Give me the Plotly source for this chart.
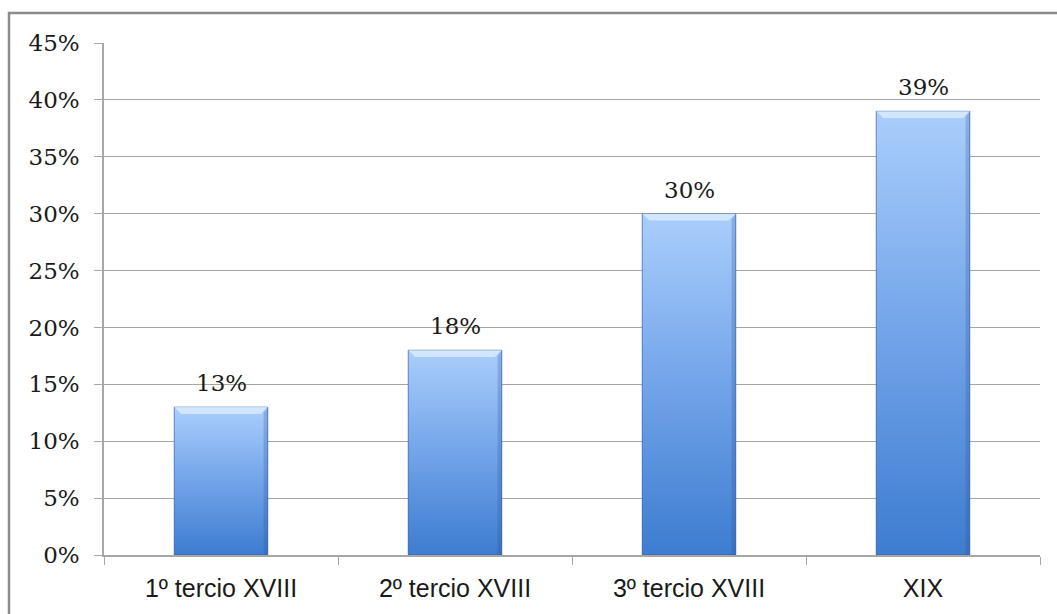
import plotly.graph_objects as go

# Share of each period (percent)
periods = ["1º tercio XVIII", "2º tercio XVIII", "3º tercio XVIII", "XIX"]
shares = [13, 18, 30, 39]
y_ticks = [0, 5, 10, 15, 20, 25, 30, 35, 40, 45]
y_tick_labels = [f"{v}%" for v in y_ticks]

BAR_HALF = 0.2
GRID = "#a6a6a6"
SERIF = "DejaVu Serif, Liberation Serif, serif"
SANS = "Liberation Sans, Arial, sans-serif"

fig = go.Figure()

# base bars on the category axis
fig.add_trace(go.Bar(
    x=periods, y=shares, width=2 * BAR_HALF,
    marker=dict(color="#6e9fe2", line=dict(width=0)),
    hoverinfo="x+y", showlegend=False,
))

# vertical gradient fill over each bar (numeric twin axis)
for i, v in enumerate(shares):
    xs = [i - BAR_HALF, i + BAR_HALF, i + BAR_HALF, i - BAR_HALF, i - BAR_HALF]
    ys = [0, 0, v, v, 0]
    fig.add_trace(go.Scatter(
        x=xs, y=ys, xaxis="x2", mode="lines", fill="toself",
        line=dict(color="rgba(50,90,155,0.6)", width=1),
        fillgradient=dict(type="vertical",
                          colorscale=[[0, "#3d7cd0"], [0.5, "#72a4e9"], [1, "#aacefc"]]),
        hoverinfo="skip", showlegend=False,
    ))
    # darker shading along the right edge
    ex = 0.018
    fig.add_trace(go.Scatter(
        x=[i + BAR_HALF - ex, i + BAR_HALF, i + BAR_HALF, i + BAR_HALF - ex, i + BAR_HALF - ex],
        y=[0, 0, v, v - 0.5, 0],
        xaxis="x2", mode="lines", fill="toself",
        line=dict(width=0), fillcolor="rgba(40,80,150,0.25)",
        hoverinfo="skip", showlegend=False,
    ))
    # light bevel along the top edge
    dy = 0.6
    dx = 0.03
    fig.add_trace(go.Scatter(
        x=[i - BAR_HALF, i + BAR_HALF, i + BAR_HALF - dx, i - BAR_HALF + dx, i - BAR_HALF],
        y=[v, v, v - dy, v - dy, v],
        xaxis="x2", mode="lines", fill="toself",
        line=dict(width=0), fillcolor="rgba(220,236,255,0.8)",
        hoverinfo="skip", showlegend=False,
    ))

# value labels above bars
for p, v in zip(periods, shares):
    fig.add_annotation(
        x=p, y=v, text=f"{v}%", showarrow=False,
        yanchor="bottom", yshift=9,
        font=dict(family=SERIF, size=23, color="#1a1a1a"),
    )

# outer chart frame
fig.add_shape(type="rect", xref="paper", yref="paper",
              x0=-95 / 936, x1=1.05, y0=-0.2, y1=1 + 30 / 514,
              line=dict(color="#8c8c8c", width=2.5), layer="below")

fig.update_layout(
    width=1057, height=614,
    margin=dict(l=104, r=17, t=43, b=57),
    paper_bgcolor="white", plot_bgcolor="white",
    bargap=0.6,
    xaxis=dict(
        type="category", tickson="boundaries", ticks="outside",
        ticklen=8, tickcolor=GRID, showline=True, linecolor=GRID, linewidth=1.5,
        showgrid=False, range=[-0.5, 3.5], ticklabelstandoff=10,
        tickfont=dict(family=SANS, size=25, color="#1a1a1a"),
    ),
    xaxis2=dict(overlaying="x", range=[-0.5, 3.5], visible=False),
    yaxis=dict(
        range=[0, 45], tickvals=y_ticks, ticktext=y_tick_labels,
        ticks="outside", ticklen=8, tickcolor=GRID,
        showline=True, linecolor=GRID, linewidth=1.5,
        showgrid=True, gridcolor=GRID, gridwidth=1.2, zeroline=False,
        ticklabelstandoff=10,
        tickfont=dict(family=SERIF, size=23, color="#1a1a1a"),
    ),
)

fig.write_html("out.html")
